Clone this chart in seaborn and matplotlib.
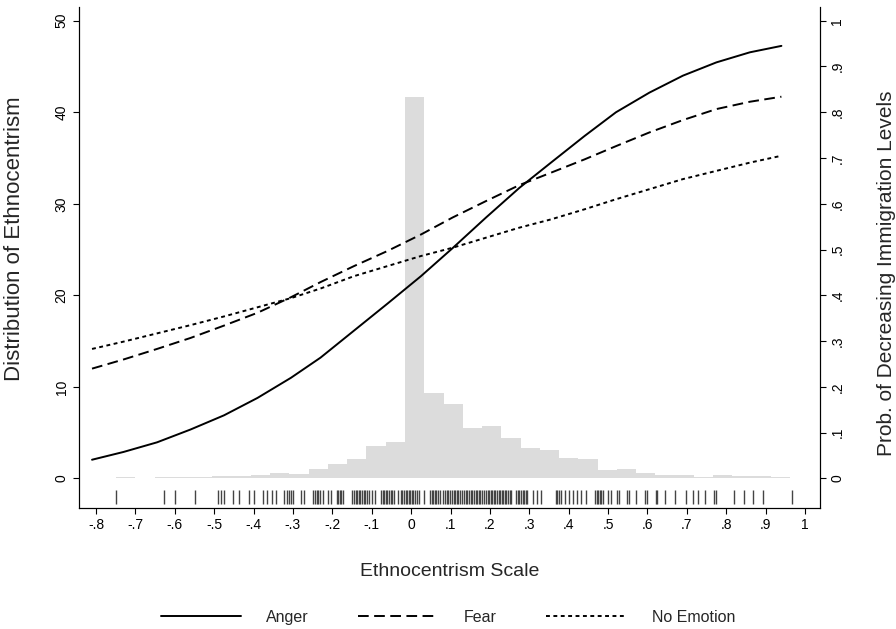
import numpy as np
import matplotlib.pyplot as plt
import seaborn as sns

# histogram of the ethnocentrism scale, percent per bin (35 bins)
bin_start = -0.749
bin_width = 0.0489
hist_pct = [0.16, 0.0, 0.16, 0.16, 0.16, 0.31, 0.24, 0.38, 0.64, 0.46,
            1.07, 1.62, 2.17, 3.59, 4.03, 41.7, 9.38, 8.1, 5.48, 5.77,
            4.46, 3.33, 3.15, 2.2, 2.13, 0.97, 1.04, 0.6, 0.35, 0.35,
            0.2, 0.35, 0.24, 0.24, 0.2]

# predicted probabilities
curve_x = [-0.81, -0.73, -0.645, -0.56, -0.475, -0.39, -0.305, -0.23, -0.145,
           -0.06, 0.025, 0.105, 0.19, 0.275, 0.355, 0.44, 0.52, 0.605, 0.69,
           0.775, 0.86, 0.94]
anger = [0.041, 0.058, 0.079, 0.107, 0.138, 0.176, 0.220, 0.264, 0.323,
         0.382, 0.442, 0.503, 0.570, 0.635, 0.690, 0.748, 0.800, 0.843,
         0.880, 0.909, 0.931, 0.945]
fear = [0.240, 0.260, 0.283, 0.307, 0.334, 0.362, 0.396, 0.429, 0.464,
        0.497, 0.533, 0.570, 0.606, 0.641, 0.668, 0.697, 0.726, 0.756,
        0.783, 0.807, 0.823, 0.834]
no_emotion = [0.283, 0.299, 0.317, 0.335, 0.354, 0.374, 0.394, 0.415, 0.442,
              0.464, 0.486, 0.504, 0.526, 0.548, 0.566, 0.588, 0.610, 0.632,
              0.654, 0.672, 0.690, 0.705]

# rug of observed scale values
rug_x = [-0.749, -0.627, -0.600, -0.549, -0.491, -0.482, -0.474, -0.451,
         -0.437, -0.411, -0.400, -0.376, -0.366, -0.354, -0.343,
         -0.322, -0.316, -0.310, -0.305, -0.299, -0.279, -0.273,
         -0.250, -0.245, -0.240, -0.236, -0.231, -0.223, -0.212, -0.204,
         -0.189, -0.185, -0.181, -0.177, -0.173,
         -0.149, -0.145, -0.141, -0.137, -0.133, -0.129, -0.125, -0.120,
         -0.116, -0.112, -0.106, -0.099, -0.091,
         -0.076, -0.072, -0.068, -0.064, -0.060, -0.056, -0.052, -0.049,
         -0.043, -0.034, -0.026, -0.022, -0.018, -0.014, -0.010, -0.006,
         -0.002, 0.002, 0.006, 0.010, 0.015, 0.019, 0.033,
         0.048, 0.052, 0.056, 0.060, 0.064, 0.068, 0.074, 0.080, 0.085,
         0.090, 0.094, 0.099, 0.104, 0.108, 0.112, 0.116, 0.120, 0.124,
         0.130, 0.135, 0.139, 0.143, 0.147, 0.151, 0.155, 0.160, 0.164,
         0.168, 0.172, 0.176, 0.180, 0.186, 0.190, 0.194, 0.198, 0.202,
         0.206, 0.210, 0.214, 0.218, 0.222, 0.226, 0.230, 0.234, 0.238,
         0.242, 0.246, 0.250, 0.254, 0.267, 0.271, 0.275, 0.279, 0.283,
         0.287, 0.291, 0.295, 0.310, 0.320, 0.330, 0.367, 0.371, 0.375,
         0.380, 0.390, 0.400, 0.410, 0.420, 0.430, 0.445,
         0.467, 0.471, 0.475, 0.479, 0.483, 0.488, 0.500, 0.507,
         0.522, 0.528, 0.547, 0.553, 0.571, 0.594, 0.600, 0.622, 0.625,
         0.645, 0.670, 0.698, 0.715, 0.729, 0.745, 0.769, 0.773, 0.820,
         0.845, 0.867, 0.893, 0.968]

x_ticks = [-0.8, -0.7, -0.6, -0.5, -0.4, -0.3, -0.2, -0.1, 0.0,
           0.1, 0.2, 0.3, 0.4, 0.5, 0.6, 0.7, 0.8, 0.9, 1.0]
x_tick_labels = ["-.8", "-.7", "-.6", "-.5", "-.4", "-.3", "-.2", "-.1", "0",
                 ".1", ".2", ".3", ".4", ".5", ".6", ".7", ".8", ".9", "1"]
left_ticks = [0, 10, 20, 30, 40, 50]
right_ticks = [0, 0.1, 0.2, 0.3, 0.4, 0.5, 0.6, 0.7, 0.8, 0.9, 1.0]
right_tick_labels = ["0", ".1", ".2", ".3", ".4", ".5", ".6", ".7", ".8", ".9", "1"]

sns.set_style("ticks")
plt.rcParams['font.family'] = ['Liberation Sans', 'DejaVu Sans']

fig = plt.figure(figsize=(8.96, 6.29), dpi=100)
ax = fig.add_axes([0.0882, 0.1924, 0.8270, 0.7965])

n_bins = len(hist_pct)
centers = bin_start + bin_width * (np.arange(n_bins) + 0.5)
sns.histplot(x=centers, weights=hist_pct, bins=n_bins,
             binrange=(bin_start, bin_start + bin_width * n_bins),
             color='#dcdcdc', alpha=1, edgecolor='none', linewidth=0, ax=ax)

# rug under the bars
ax.vlines(rug_x, -2.8, -1.25, color='#444444', linewidth=1.0)

y_lo, y_hi = -3.22, 51.5
ax.set_xlim(-0.843, 1.038)
ax.set_ylim(y_lo, y_hi)
ax.set_xticks(x_ticks)
ax.set_xticklabels(x_tick_labels, fontsize=10)
ax.set_yticks(left_ticks)
ax.set_yticklabels([str(t) for t in left_ticks], fontsize=10, rotation=90, va='center')
ax.set_xlabel("Ethnocentrism Scale", fontsize=14)
ax.xaxis.set_label_coords(0.5007, -0.110)
ax.set_ylabel("Distribution of Ethnocentrism", fontsize=16)
ax.yaxis.set_label_coords(-0.073, 0.537)

ax2 = ax.twinx()
sns.lineplot(x=curve_x, y=anger, color='black', linewidth=1.4, ax=ax2, label="Anger")
sns.lineplot(x=curve_x, y=fear, color='black', linewidth=1.4, ax=ax2, label="Fear",
             dashes=False).lines[-1].set_dashes([5.5, 2.8])
sns.lineplot(x=curve_x, y=no_emotion, color='black', linewidth=1.4, ax=ax2, label="No Emotion",
             dashes=False).lines[-1].set_dashes([2, 1.8])
ax2.set_ylim(y_lo / 50, y_hi / 50)
ax2.set_yticks(right_ticks)
ax2.set_yticklabels(right_tick_labels, fontsize=10, rotation=90, va='center')
ax2.set_ylabel("Prob. of Decreasing Immigration Levels", fontsize=15)
ax2.yaxis.set_label_coords(1.077, 0.469)

for a in (ax, ax2):
    a.spines['top'].set_visible(False)
    for s in ('left', 'right', 'bottom'):
        a.spines[s].set_linewidth(0.8)
        a.spines[s].set_color('black')
    a.tick_params(length=4, width=0.8, color='black', labelcolor='black')
    a.grid(False)

handles, labels = ax2.get_legend_handles_labels()
ax2.get_legend().remove()
fig.legend(handles, labels, loc='lower center', bbox_to_anchor=(0.5, -0.016),
           ncol=3, frameon=False, fontsize=11.5, handlelength=5.0,
           handletextpad=1.6, columnspacing=3.1)

fig.savefig("out.png", dpi=100)
